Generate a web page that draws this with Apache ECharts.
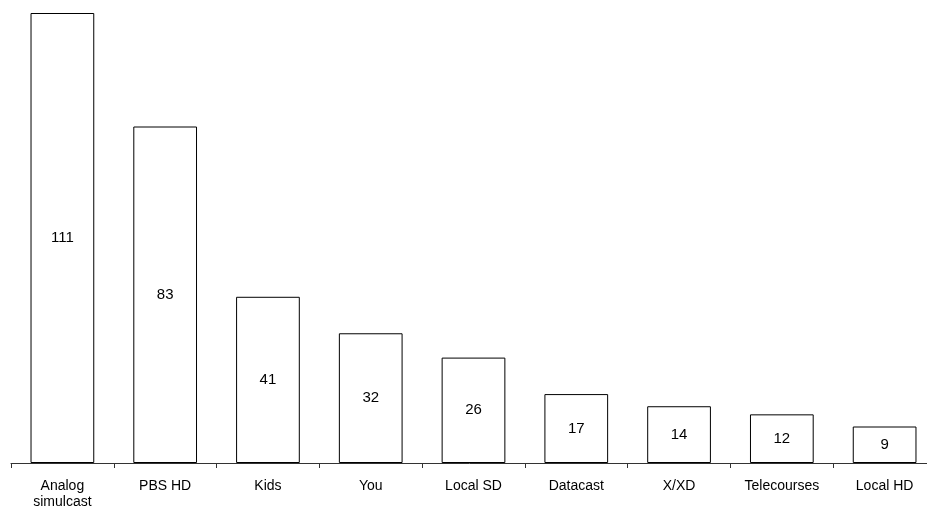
<!DOCTYPE html>
<html>
<head>
<meta charset="utf-8">
<script src="https://cdn.jsdelivr.net/npm/echarts@6/dist/echarts.min.js"></script>
<style>
  html, body { margin: 0; padding: 0; background: #fff; }
  #chart { width: 927px; height: 506px; }
</style>
</head>
<body>
<div id="chart"></div>
<script>
var categories = ['Analog\nsimulcast', 'PBS HD', 'Kids', 'You', 'Local SD', 'Datacast', 'X/XD', 'Telecourses', 'Local HD'];
var values = [111, 83, 41, 32, 26, 17, 14, 12, 9];

var myChart = echarts.init(document.getElementById('chart'));
var option = {
    animation: false,
    grid: {
        left: 11,
        right: -9,
        top: 13,
        bottom: 43,
        containLabel: false,
        outerBoundsMode: 'none'
    },
    xAxis: {
        type: 'category',
        data: categories,
        axisLine: { lineStyle: { color: '#333', width: 1 } },
        axisTick: { show: true, length: 5, lineStyle: { color: '#333' } },
        axisLabel: {
            color: '#000',
            fontFamily: 'Liberation Sans, Arial, sans-serif',
            fontSize: 14,
            lineHeight: 16,
            margin: 15,
            interval: 0
        }
    },
    yAxis: {
        type: 'value',
        min: 0,
        max: 111,
        show: false,
        splitLine: { show: false }
    },
    series: [{
        type: 'bar',
        data: values,
        barWidth: '62%',
        itemStyle: {
            color: '#fff',
            borderColor: '#000',
            borderWidth: 1
        },
        label: {
            show: true,
            position: 'inside',
            color: '#000',
            fontFamily: 'Liberation Sans, Arial, sans-serif',
            fontSize: 15
        }
    }]
};
myChart.setOption(option);
</script>
</body>
</html>
